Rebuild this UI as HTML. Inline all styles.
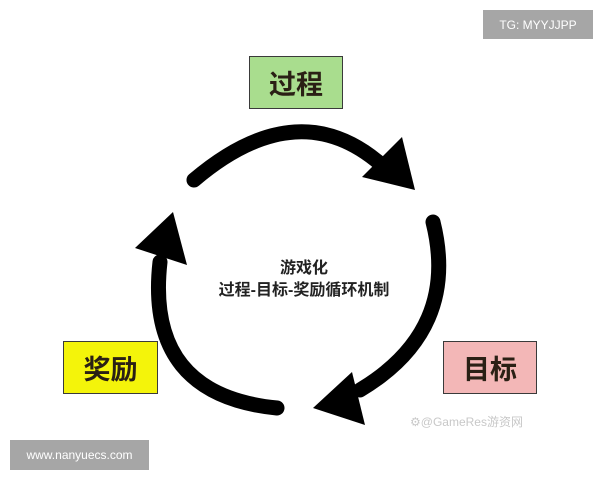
<!DOCTYPE html>
<html><head><meta charset="utf-8"><style>
body{margin:0;width:600px;height:480px;background:#fff;position:relative;overflow:hidden;font-family:"Liberation Sans","Noto Sans CJK SC",sans-serif}
.b{position:absolute;box-sizing:border-box;border:1.5px solid #3a3a3a;display:flex;align-items:center;justify-content:center;font-size:27px;color:#2a2015;font-weight:bold}
.t{position:absolute;text-align:center;font-weight:bold;color:#222;font-size:16px}
</style></head><body>
<svg width="600" height="480" style="position:absolute;left:0;top:0">
<g fill="none" stroke="#000" stroke-width="15" stroke-linecap="round">
<path d="M194 180 Q300 90 385 168"/>
<path d="M433 222 Q460 330 360 390"/>
<path d="M277 408 Q145 395 160 262"/>
</g>
<g fill="#000">
<polygon points="402,137 415,190 362,177"/>
<polygon points="352,372 365,425 313,408"/>
<polygon points="173,212 135,248 187,265"/>
</g>
</svg>
<div class="b" style="left:249px;top:56px;width:94px;height:53px;background:#a9dd8e">过程</div>
<div class="b" style="left:63px;top:341px;width:95px;height:53px;background:#f4f40a">奖励</div>
<div class="b" style="left:443px;top:341px;width:94px;height:53px;background:#f3b7b7">目标</div>
<div class="t" style="left:200px;top:254px;width:208px">游戏化</div>
<div class="t" style="left:196px;top:276px;width:216px">过程-目标-奖励循环机制</div>
<div style="position:absolute;left:410px;top:413px;font-size:12px;color:#c8c8c8">⚙@GameRes游资网</div>
<div style="position:absolute;left:483px;top:10px;width:110px;height:29px;background:#a6a6a6;color:#fff;font-size:12px;display:flex;align-items:center;justify-content:center">TG: MYYJJPP</div>
<div style="position:absolute;left:10px;top:440px;width:139px;height:30px;background:#a6a6a6;color:#fff;font-size:12px;display:flex;align-items:center;justify-content:center">www.nanyuecs.com</div>
</body></html>
